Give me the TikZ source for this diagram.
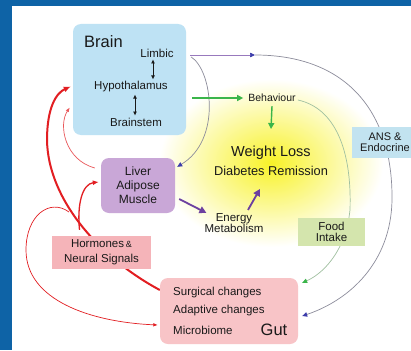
\documentclass[tikz,border=0pt]{standalone}
\usepackage{fontspec}
\setmainfont{Liberation Sans}
\usetikzlibrary{arrows.meta,positioning}
\definecolor{frameblue}{RGB}{14,99,166}
\definecolor{brainblue}{RGB}{190,226,244}
\definecolor{liverpurple}{RGB}{201,167,215}
\definecolor{hormpink}{RGB}{245,180,185}
\definecolor{gutpink}{RGB}{248,196,199}
\definecolor{foodgreen}{RGB}{212,229,173}
\definecolor{ansblue}{RGB}{194,227,240}
\definecolor{glowyellow}{RGB}{248,242,40}
\definecolor{signalred}{RGB}{226,30,34}
\definecolor{arrowgreen}{RGB}{58,181,74}
\definecolor{arrowpurple}{RGB}{108,64,160}
\definecolor{wiregray}{RGB}{140,140,155}
\definecolor{wiregreen}{RGB}{160,192,160}
\definecolor{tipblue}{RGB}{60,60,170}
\definecolor{ink}{RGB}{25,25,25}
\newcommand{\fsz}[2]{\fontsize{#1}{#2}\selectfont}
\pgfdeclarelayer{glow}
\pgfdeclarelayer{wires}
\pgfsetlayers{glow,wires,main}

\begin{document}
\begin{tikzpicture}[x=1pt, y=-1pt,
  panel/.style={rounded corners=8pt, inner sep=0pt, align=center, text=ink, font=\fsz{12}{14}},
  tag/.style={inner sep=0pt, align=center, text=ink, font=\fsz{11.5}{11.5}},
  txt/.style={inner sep=1pt, align=center, text=ink, font=\fsz{11.5}{14}},
  dbl/.style={{Latex[length=4pt,width=4pt]}-{Latex[length=4pt,width=4pt]}, line width=0.8pt, draw=ink},
  grarrow/.style={-{Triangle[length=6pt,width=6pt]}, line width=1.4pt, draw=arrowgreen},
  purarrow/.style={-{Triangle[length=7pt,width=7pt]}, line width=1.8pt, draw=arrowpurple},
  redthick/.style={-{Latex[length=7pt,width=6pt]}, line width=2pt, draw=signalred},
  redmid/.style={-{Latex[length=6pt,width=5pt]}, line width=1.3pt, draw=signalred},
  redthin/.style={-{Latex[length=4.5pt,width=3.5pt]}, line width=0.7pt, draw=signalred},
  wire/.style={line width=0.7pt, draw=wiregray}
]
\useasboundingbox (0,0) rectangle (411,350);
\begin{pgfonlayer}{glow}
  \fill[frameblue] (0,0) rectangle (411,350);
  \fill[white] (12,6) rectangle (411,350);
  \shade[inner color=glowyellow, outer color=white] (271,163) ellipse (112 and 84);
\end{pgfonlayer}

% boxes
\node[panel, fill=brainblue, minimum width=113pt, minimum height=111pt] (brain) at (129.5,79.5) {};
\node[txt, font=\fsz{16.5}{18}] (brainlbl) at (103.5,42) {Brain};
\node[txt] (limbic) at (157,53) {Limbic};
\node[txt] (hypo) at (131,87) {Hypothalamus};
\node[txt] (stem) at (136,122) {Brainstem};
\draw[dbl] ([xshift=-4pt,yshift=-1pt]limbic.south) -- ([xshift=22pt,yshift=1pt]hypo.north);
\draw[dbl] ([xshift=4pt,yshift=-1pt]hypo.south) -- ([xshift=-1pt,yshift=1pt]stem.north);

\node[txt, font=\fsz{10.5}{12}] (behav) at (272,98) {Behaviour};
\node[txt, font=\fsz{14.5}{16}] (wl) at (271,153) {Weight Loss};
\node[txt, font=\fsz{12.8}{15}] (dr) at (271,171) {Diabetes Remission};

\node[panel, fill=liverpurple, minimum width=74pt, minimum height=55pt] (liver) at (138,185.5) {Liver\\Adipose\\Muscle};
\node[txt, font=\fsz{11.5}{10.5}] (energy) at (234,223) {Energy\\Metabolism};

\node[tag, fill=hormpink, minimum width=99pt, minimum height=33pt, font=\fsz{11.5}{15}] (horm) at (101.5,252.5) {Hormones\,{\fsz{9}{9}\&}\\Neural Signals};

\node[panel, fill=gutpink, minimum width=138pt, minimum height=66pt] (gut) at (229,311) {};
\node[txt, anchor=west] (surg) at (172,293) {Surgical changes};
\node[txt, anchor=west] (adapt) at (172,311) {Adaptive changes};
\node[txt, anchor=west] (micro) at (172,330) {Microbiome};
\node[txt, font=\fsz{16.5}{18}] (gutlbl) at (274,330) {Gut};

\node[tag, fill=foodgreen, minimum width=67pt, minimum height=28pt] (food) at (331.5,232) {Food\\Intake};
\node[tag, fill=ansblue, minimum width=66pt, minimum height=31pt, font=\fsz{11}{10.5}] (ans) at (385,142) {ANS \&\\Endocrine};

\coordinate (ansmid) at (255,55);
\coordinate (loopst) at (69,212);

% connectors
\begin{pgfonlayer}{wires}
\draw[wire, draw=arrowpurple!70, -{Triangle[length=5pt,width=4.5pt,color=tipblue]}] ([xshift=4pt,yshift=24.5pt]brain.east) -- (ansmid);
\draw[wire, -{Triangle[length=5pt,width=4.5pt,color=tipblue]}] (ansmid) .. controls (345,55) and (393,110) .. (392,200) .. controls (391,262) and (350,300) .. ([xshift=4pt,yshift=-5pt]gut.east);
\draw[wire, -{Triangle[length=5pt,width=4.5pt,color=tipblue]}] ([xshift=5pt,yshift=22.5pt]brain.east) .. controls (212,70) and (222,140) .. ([xshift=2pt,yshift=-9pt]liver.north east);

\draw[grarrow] ([xshift=6pt,yshift=-18.5pt]brain.east) -- ([xshift=-4pt]behav.west);
\draw[grarrow] ([yshift=-3pt]behav.south) -- ([yshift=16pt]wl.north);
\draw[wire, draw=wiregreen, -{Triangle[length=5pt,width=4.5pt,color=arrowgreen]}] ([xshift=1pt,yshift=-2pt]behav.east) .. controls (335,108) and (352,150) .. (350,210) .. controls (345,255) and (320,275) .. ([xshift=4pt,yshift=-5pt]gut.north east);

\draw[purarrow] ([xshift=4pt,yshift=-13.5pt]liver.east) -- ([xshift=3pt,yshift=-1pt]energy.north west);
\draw[purarrow] ([xshift=14pt,yshift=2pt]energy.north) -- ([xshift=-11pt,yshift=-12pt]dr.south);

\draw[redthick] ([yshift=21pt]gut.west) .. controls (100,258) and (48,200) .. (47,140) .. controls (47,108) and (56,93) .. ([xshift=-2pt,yshift=-7pt]brain.west);
\draw[redmid] ([xshift=-22pt,yshift=6pt]horm.north) .. controls (77,205) and (82,184) .. ([xshift=-2pt,yshift=3.5pt]liver.west);
\draw[redthin, draw=signalred!75] ([xshift=-6pt,yshift=17.5pt]liver.west) .. controls (65,160) and (58,125) .. ([xshift=-3pt,yshift=-28pt]brain.west);
\draw[redthin] (loopst) .. controls (50,198) and (26,215) .. (26,250) .. controls (26,300) and (90,322) .. ([xshift=-2pt,yshift=-14pt]gut.west);
\end{pgfonlayer}
\end{tikzpicture}
\end{document}
